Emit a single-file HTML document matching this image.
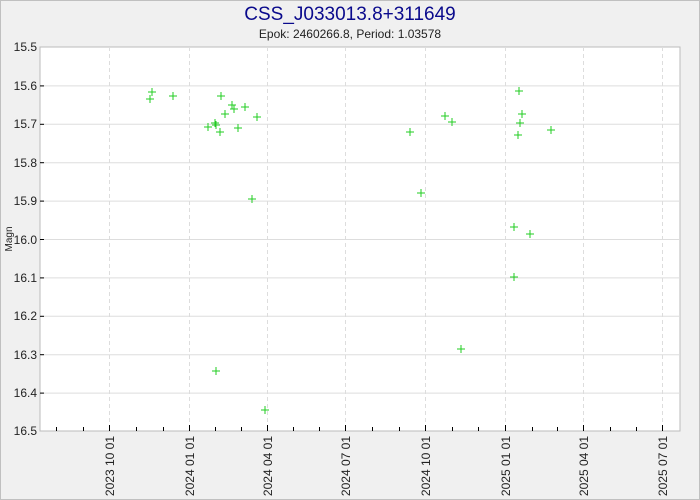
<!DOCTYPE html><html><head><style>html,body{margin:0;padding:0;overflow:hidden;background:#f0f0f0;width:700px;height:500px}svg{display:block;font-family:"Liberation Sans",sans-serif}</style></head><body>
<svg width="700" height="500" viewBox="0 0 700 500" xmlns="http://www.w3.org/2000/svg">
<rect x="0.5" y="0.5" width="699" height="499" fill="#f0f0f0" stroke="#c0c0c0"/>
<text x="350" y="20" text-anchor="middle" font-size="19" fill="#0a0a8c">CSS_J033013.8+311649</text>
<text x="350" y="38" text-anchor="middle" font-size="12" fill="#222">Epok: 2460266.8, Period: 1.03578</text>
<rect x="40" y="47" width="640" height="384" fill="#fff" stroke="#bbb"/>
<g stroke="#ddd" stroke-width="1">
<line x1="40" x2="680" y1="85.9" y2="85.9"/><line x1="40" x2="680" y1="124.3" y2="124.3"/><line x1="40" x2="680" y1="162.7" y2="162.7"/><line x1="40" x2="680" y1="201.1" y2="201.1"/><line x1="40" x2="680" y1="239.5" y2="239.5"/><line x1="40" x2="680" y1="277.9" y2="277.9"/><line x1="40" x2="680" y1="316.3" y2="316.3"/><line x1="40" x2="680" y1="354.7" y2="354.7"/><line x1="40" x2="680" y1="393.1" y2="393.1"/>
</g>
<g stroke="#ddd" stroke-dasharray="4,3">
<line x1="109.5" x2="109.5" y1="47" y2="431"/><line x1="189.5" x2="189.5" y1="47" y2="431"/><line x1="267.5" x2="267.5" y1="47" y2="431"/><line x1="345.5" x2="345.5" y1="47" y2="431"/><line x1="425.5" x2="425.5" y1="47" y2="431"/><line x1="505.5" x2="505.5" y1="47" y2="431"/><line x1="583.5" x2="583.5" y1="47" y2="431"/><line x1="662.5" x2="662.5" y1="47" y2="431"/>
</g>
<g stroke="#000">
<line x1="40" x2="44" y1="85.9" y2="85.9"/><line x1="40" x2="44" y1="124.3" y2="124.3"/><line x1="40" x2="44" y1="162.7" y2="162.7"/><line x1="40" x2="44" y1="201.1" y2="201.1"/><line x1="40" x2="44" y1="239.5" y2="239.5"/><line x1="40" x2="44" y1="277.9" y2="277.9"/><line x1="40" x2="44" y1="316.3" y2="316.3"/><line x1="40" x2="44" y1="354.7" y2="354.7"/><line x1="40" x2="44" y1="393.1" y2="393.1"/>
<path d="M56.5 431v-4M83.5 431v-4M136.5 431v-4M163.5 431v-4M215.5 431v-4M241.5 431v-4M293.5 431v-4M319.5 431v-4M372.5 431v-4M399.5 431v-4M452.5 431v-4M478.5 431v-4M532.5 431v-4M557.5 431v-4M610.5 431v-4M636.5 431v-4"/>
<path d="M109.5 431v-6M189.5 431v-6M267.5 431v-6M345.5 431v-6M425.5 431v-6M505.5 431v-6M583.5 431v-6M662.5 431v-6"/>
</g>
<g font-size="12" fill="#222" text-anchor="end">
<text x="37" y="51">15.5</text><text x="37" y="90">15.6</text><text x="37" y="128">15.7</text><text x="37" y="167">15.8</text><text x="37" y="205">15.9</text><text x="37" y="244">16.0</text><text x="37" y="282">16.1</text><text x="37" y="320">16.2</text><text x="37" y="359">16.3</text><text x="37" y="397">16.4</text><text x="37" y="435">16.5</text>
</g>
<g font-size="12" fill="#222" text-anchor="end">
<text transform="translate(114,436) rotate(-90)">2023 10 01</text>
<text transform="translate(194,436) rotate(-90)">2024 01 01</text>
<text transform="translate(272,436) rotate(-90)">2024 04 01</text>
<text transform="translate(350,436) rotate(-90)">2024 07 01</text>
<text transform="translate(430,436) rotate(-90)">2024 10 01</text>
<text transform="translate(510,436) rotate(-90)">2025 01 01</text>
<text transform="translate(588,436) rotate(-90)">2025 04 01</text>
<text transform="translate(667,436) rotate(-90)">2025 07 01</text>
</g>
<text transform="translate(12,239) rotate(-90)" font-size="10" text-anchor="middle" fill="#222">Magn</text>
<g stroke="#22cc22" stroke-width="1">
<path d="M148 92h8M152 88v8 M169 96h8M173 92v8 M204 127h8M208 123v8 M211 123h8M215 119v8 M212 125h8M216 121v8 M217 96h8M221 92v8 M221 114h8M225 110v8 M228 105h8M232 101v8 M230 109h8M234 105v8 M234 128h8M238 124v8 M241 107h8M245 103v8 M248 199h8M252 195v8 M212 371h8M216 367v8 M261 410h8M265 406v8 M406 132h8M410 128v8 M441 116h8M445 112v8 M448 122h8M452 118v8 M518 114h8M522 110v8 M516 123h8M520 119v8 M514 135h8M518 131v8 M510 227h8M514 223v8 M526 234h8M530 230v8 M547 130h8M551 126v8 M510 277h8M514 273v8"/>
<path d="M146 99h8M150 95v8 M216 132h8M220 128v8 M253 117h8M257 113v8 M417 193h8M421 189v8 M457 349h8M461 345v8 M515 91h8M519 87v8"/>
</g>
</svg></body></html>
